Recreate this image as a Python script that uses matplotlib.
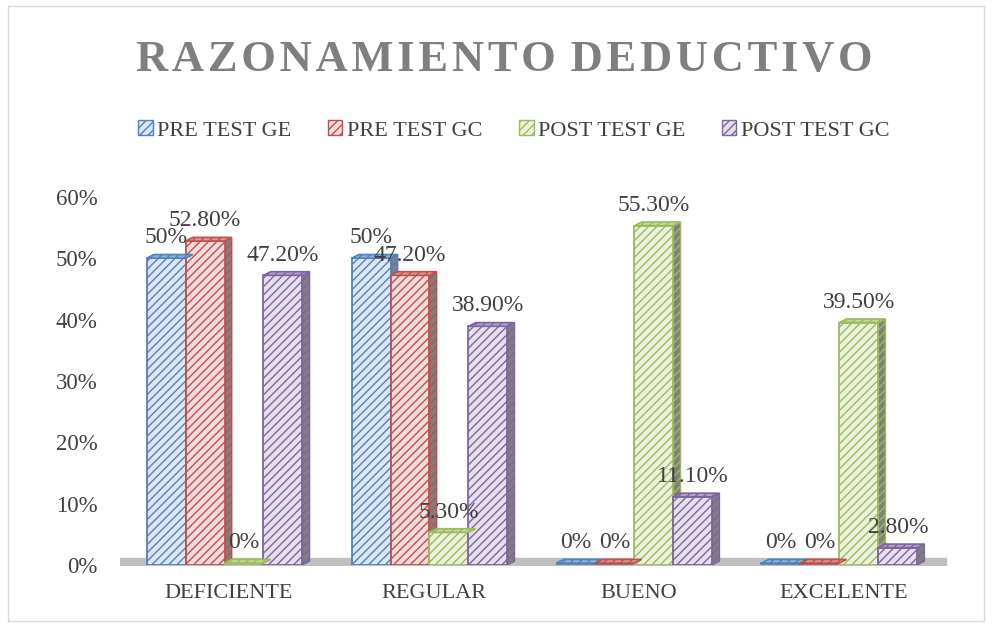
import matplotlib.pyplot as plt
import matplotlib.patches as mpatches
import numpy as np

categories = ['DEFICIENTE', 'REGULAR', 'BUENO', 'EXCELENTE']
series = ['PRE TEST GE', 'PRE TEST GC', 'POST TEST GE', 'POST TEST GC']
pre_ge = [0.50, 0.50, 0.0, 0.0]
pre_gc = [0.528, 0.472, 0.0, 0.0]
post_ge = [0.0, 0.053, 0.553, 0.395]
post_gc = [0.472, 0.389, 0.111, 0.028]
yticks = [0, 0.1, 0.2, 0.3, 0.4, 0.5, 0.6]

edge_cols = ['#4f81bd', '#c0504d', '#9bbb59', '#8064a2']
face_cols = ['#dce6f2', '#f2dcdb', '#ebf1de', '#e5e0ec']
top_cols = ['#95b3d7', '#d99694', '#c3d69b', '#b3a2c7']

plt.rcParams['font.family'] = ['Liberation Serif', 'DejaVu Serif']
plt.rcParams['hatch.linewidth'] = 1.0

fig = plt.figure(figsize=(9.92, 6.27), dpi=100)
fig.patches.append(mpatches.Rectangle((0.008, 0.01), 0.984, 0.98, transform=fig.transFigure,
                                      fill=False, edgecolor='#d9d9d9', lw=1))
ax = fig.add_axes([0.121, 0.099, 0.847, 0.587])

x = np.arange(len(categories))
w = 0.19
dx, dy = 0.035, 0.006
data = [pre_ge, pre_gc, post_ge, post_gc]

# gray floor
ax.fill_between([-0.53, 3.5], [0, 0], [0.012, 0.012], color='#bfbfbf', zorder=0)

for i, vals in enumerate(data):
    xs = x + (i - 1.5) * w - 0.02
    for j, (xc, h) in enumerate(zip(xs, vals)):
        x0 = xc - w / 2
        hh = max(h, 0.003)
        ax.bar(xc, hh, w, color=face_cols[i], edgecolor=edge_cols[i], hatch='////',
               lw=1.3, zorder=2 + j * 0.01)
        top = [(x0, hh), (x0 + w, hh), (x0 + w + dx, hh + dy), (x0 + dx, hh + dy)]
        ax.add_patch(mpatches.Polygon(top, closed=True, facecolor=top_cols[i],
                                      edgecolor=edge_cols[i], hatch='////', lw=1.2, zorder=3))
        side = [(x0 + w, 0), (x0 + w + dx, dy), (x0 + w + dx, hh + dy), (x0 + w, hh)]
        ax.add_patch(mpatches.Polygon(side, closed=True, facecolor='#7f7f7f',
                                      edgecolor=edge_cols[i], hatch='////', lw=1.0, zorder=1.9))
        lab = f'{h*100:.0f}%' if abs(h * 100 - round(h * 100)) < 1e-9 else f'{h*100:.2f}%'
        ax.text(xc, hh + 0.016, lab, ha='center', va='bottom', fontsize=17, color='#404040', zorder=5)

ax.set_xlim(-0.53, 3.57)
ax.set_ylim(0, 0.6)
ax.set_yticks(yticks)
ax.set_yticklabels([f'{int(t*100)}%' for t in yticks], fontsize=16.5, color='#404040')
ax.set_xticks(x)
ax.set_xticklabels(categories, fontsize=16, color='#404040')
ax.tick_params(length=0, pad=14)
ax.tick_params(axis='y', pad=16)
for s in ax.spines.values():
    s.set_visible(False)

handles = [mpatches.Patch(facecolor=face_cols[i], edgecolor=edge_cols[i], hatch='////', label=series[i])
           for i in range(4)]
fig.legend(handles=handles, loc='center', bbox_to_anchor=(0.518, 0.792), ncol=4, frameon=False,
           fontsize=16, handlelength=0.65, handleheight=0.65, handletextpad=0.2, columnspacing=1.65,
           labelcolor='#404040')

fig.text(0.508, 0.905, '\u200a'.join('RAZONAMIENTO') + ' \u200a' + '\u200a'.join('DEDUCTIVO'),
         ha='center', va='center', fontsize=32, fontweight='bold', color='#7f7f7f')

fig.savefig('out.png', dpi=100)
